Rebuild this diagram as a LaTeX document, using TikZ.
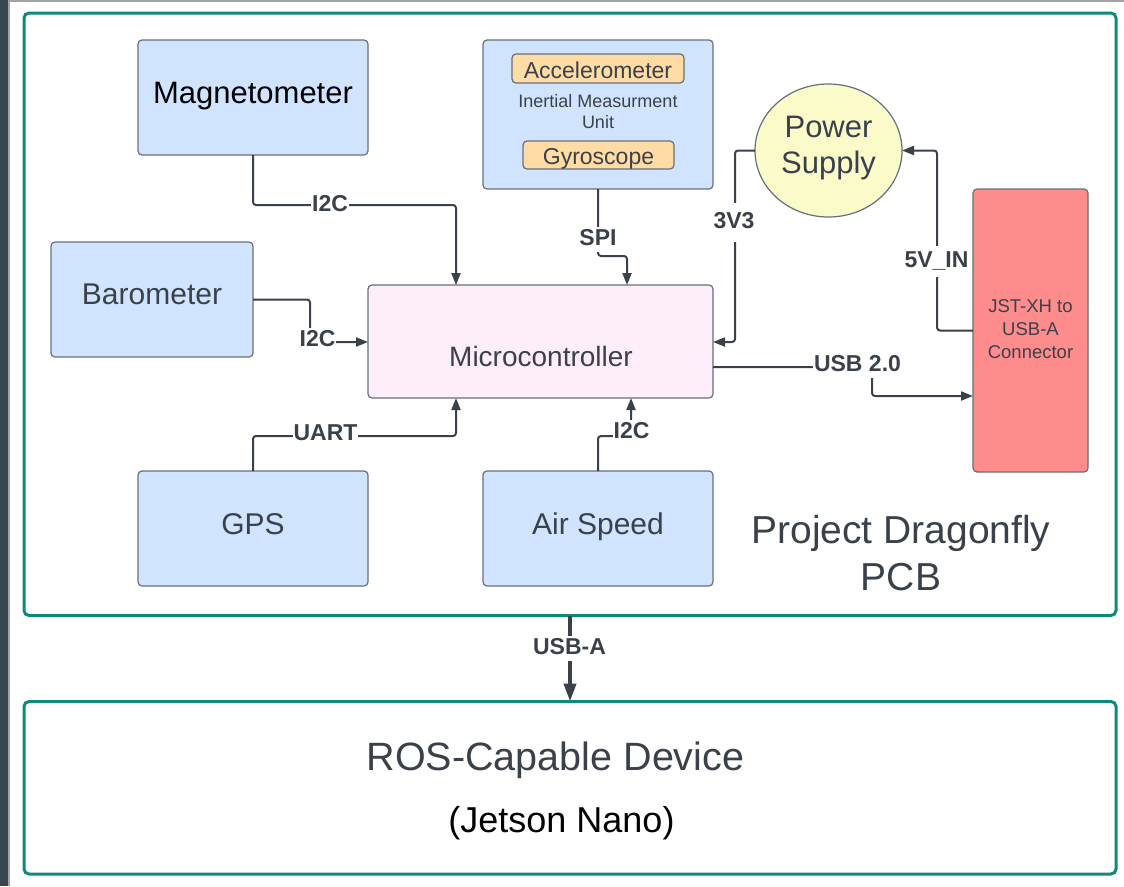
\documentclass[tikz,border=0pt]{standalone}
\usepackage{fontspec}
\setmainfont{Liberation Sans}
\usetikzlibrary{arrows.meta,shapes.geometric}
\definecolor{ink}{HTML}{3A414A}
\definecolor{boxline}{HTML}{66707A}
\definecolor{boxblue}{HTML}{D0E4FF}
\definecolor{boxorange}{HTML}{FFDCA5}
\definecolor{boxpink}{HTML}{FDEEFA}
\definecolor{boxyellow}{HTML}{FBFBCA}
\definecolor{boxred}{HTML}{FF8C8C}
\definecolor{pcbteal}{HTML}{0F8A78}
\definecolor{sidebar}{HTML}{37474F}
\definecolor{sidegrey}{HTML}{A3A3A3}
\tikzset{
  box/.style={draw=boxline, line width=1.2pt, rounded corners=4pt, inner sep=0pt, outer sep=0pt},
  bluebox/.style={box, fill=boxblue},
  subbox/.style={box, fill=boxorange},
  frame/.style={draw=pcbteal, line width=3pt, rounded corners=5pt, inner sep=0pt, outer sep=0pt},
  txt/.style={text=ink, anchor=base, inner sep=0pt},
  conn/.style={draw=ink, line width=2pt, rounded corners=3pt},
  arr/.style={conn, -{Triangle[length=12pt,width=9pt]}},
  lbl/.style={txt, font=\bfseries\fontsize{23}{27}\selectfont, fill=white, inner xsep=1pt, inner ysep=2pt, text height=16.5pt, text depth=4.5pt}
}
\begin{document}
\begin{tikzpicture}[x=1pt,y=-1pt]
\useasboundingbox (0,0) rectangle (1124,886);
% screen edges
\fill[sidebar] (0,0) rectangle (8,886);
\fill[sidegrey] (8,0) rectangle (10,886);
\fill[sidegrey] (8,0) rectangle (1124,2);

% frames
\node[frame, minimum width=1092pt, minimum height=602.5pt] (pcb) at (570,314.25) {};
\node[frame, minimum width=1092pt, minimum height=172.5pt] (ros) at (570,787.75) {};

% boxes
\node[bluebox, minimum width=230pt, minimum height=115pt] (mag) at (253,97.5) {};
\node[txt, text=black, font=\fontsize{31}{36}\selectfont] (magt) at (253,103) {Magnetometer};

\node[bluebox, minimum width=230pt, minimum height=149pt] (imu) at (598,114.5) {};
\node[subbox, minimum width=172pt, minimum height=29pt] (acc) at (598,68.5) {};
\node[txt, font=\fontsize{23}{28}\selectfont] (acct) at (598,78) {Accelerometer};
\node[txt, font=\fontsize{18}{22}\selectfont] (imut1) at (598,107) {Inertial Measurment};
\node[txt, font=\fontsize{18}{22}\selectfont] (imut2) at (598,128) {Unit};
\node[subbox, minimum width=151pt, minimum height=28pt] (gyr) at (598.5,155) {};
\node[txt, font=\fontsize{23}{28}\selectfont] (gyrt) at (598.5,164) {Gyroscope};

\node[bluebox, minimum width=202pt, minimum height=115pt] (baro) at (152,299.5) {};
\node[txt, font=\fontsize{30}{36}\selectfont] (barot) at (152,304) {Barometer};

\node[box, fill=boxpink, minimum width=345pt, minimum height=113pt] (mcu) at (540.5,341.5) {};
\node[txt, font=\fontsize{28}{34}\selectfont] (mcut) at (541,366) {Microcontroller};

\node[bluebox, minimum width=230pt, minimum height=115pt] (gps) at (253,528.5) {};
\node[txt, font=\fontsize{30}{36}\selectfont] (gpst) at (253,534) {GPS};

\node[bluebox, minimum width=230pt, minimum height=115pt] (air) at (598,528.5) {};
\node[txt, font=\fontsize{30}{36}\selectfont] (airt) at (598,534) {Air Speed};

\node[draw=boxline, line width=1.2pt, fill=boxyellow, ellipse, inner sep=0pt, outer sep=0pt, minimum width=147pt, minimum height=133pt] (psu) at (828.5,150.5) {};
\node[txt, font=\fontsize{31}{36}\selectfont] (psut1) at (828.5,137) {Power};
\node[txt, font=\fontsize{31}{36}\selectfont] (psut2) at (828.5,173) {Supply};

\node[box, fill=boxred, minimum width=115pt, minimum height=283pt] (jst) at (1030.5,330.5) {};
\node[txt, font=\fontsize{18.5}{22}\selectfont] (jstt1) at (1030.5,312) {JST-XH to};
\node[txt, font=\fontsize{18.5}{22}\selectfont] (jstt2) at (1030.5,335) {USB-A};
\node[txt, font=\fontsize{18.5}{22}\selectfont] (jstt3) at (1030.5,358) {Connector};

\node[txt, font=\fontsize{39}{46}\selectfont] (title1) at (901,543) {Project Dragonfly};
\node[txt, font=\fontsize{39}{46}\selectfont] (title2) at (901,590) {PCB};

\node[txt, font=\fontsize{39.5}{46}\selectfont] (rost1) at (555.5,770) {ROS-Capable Device};
\node[txt, text=black, font=\fontsize{36}{42}\selectfont] (rost2) at (561.5,832) {(Jetson Nano)};

% connectors
\coordinate (c1) at (456,205);
\draw[arr] (mag.south) |- (c1) -- (c1 |- mcu.north);
\coordinate (c2) at (627,256);
\draw[arr] (imu.south) |- (c2) -- (c2 |- mcu.north);
\coordinate (c3) at (310,342);
\draw[arr] (baro.east) -| (c3) -- (c3 -| mcu.west);
\coordinate (c4) at (456,436);
\draw[arr] (gps.north) |- (c4) -- (c4 |- mcu.south);
\coordinate (c5) at (631,436);
\draw[arr] (air.north) |- (c5) -- (c5 |- mcu.south);
\coordinate (c6) at (735,342);
\draw[arr] (psu.west) -| (c6) -- (c6 -| mcu.east);
\coordinate (c7) at (937,150.5);
\draw[arr] (jst.west) -| (c7) -- (psu.east);
\coordinate (c8) at (872,367);
\coordinate (c9) at (872,396);
\draw[arr] (mcu.east |- c8) -- (c8) -- (c9) -- (c9 -| jst.west);
\draw[draw=ink, line width=4pt, -{Triangle[length=18pt,width=12pt]}] (pcb.south) -- (ros.north);

% labels
\node[lbl] (l1) at (330,211) {I2C};
\node[lbl] (l2) at (598,245) {SPI};
\node[lbl] (l3) at (317.5,346) {I2C};
\node[lbl] (l4) at (325.5,440) {UART};
\node[lbl] (l5) at (631.5,438) {I2C};
\node[lbl, inner ysep=9pt] (l6) at (734,228) {3V3};
\node[lbl, inner ysep=5pt] (l7) at (936.5,267) {5V\_IN};
\node[lbl] (l8) at (857.5,371) {USB 2.0};
\node[lbl] (l9) at (569.5,654) {USB-A};
\end{tikzpicture}
\end{document}
